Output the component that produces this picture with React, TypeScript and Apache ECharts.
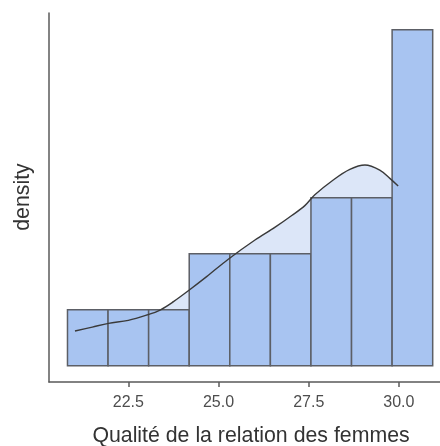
import React, { useEffect, useRef } from "react";
import * as echarts from "echarts";

// Histogram bins (edges) and the number of observations in each bin
const binEdges = [20.8125, 21.9375, 23.0625, 24.1875, 25.3125, 26.4375, 27.5625, 28.6875, 29.8125, 30.9375];
const binCounts = [1, 1, 1, 2, 2, 2, 3, 3, 6];
const sampleSize = 21;

// Kernel density estimate of the same variable
const kdeX = [21.02, 21.5, 21.95, 22.5, 23.01, 23.38, 23.75, 24.19, 24.67, 25.27, 26.01, 26.57, 27.03, 27.4, 27.67, 28.18, 28.64, 29.06, 29.47, 29.75, 29.98];
const kdeY = [0.0262, 0.0292, 0.032, 0.0343, 0.0383, 0.0421, 0.0484, 0.0572, 0.0673, 0.0805, 0.095, 0.1047, 0.1135, 0.1212, 0.1292, 0.1404, 0.1484, 0.1517, 0.1479, 0.1416, 0.1358];

const xTickValues = [22.5, 25.0, 27.5, 30.0];
const xLabel = "Qualité de la relation des femmes";
const yLabel = "density";

const FONT = "Liberation Sans, Arial, Helvetica, sans-serif";

export default function App() {
  const ref = useRef<HTMLDivElement>(null);

  useEffect(() => {
    if (!ref.current) return;
    const chart = echarts.init(ref.current, null, { renderer: "svg" });

    const binWidth = binEdges[1] - binEdges[0];
    const bars = binCounts.map((c, i) => [binEdges[i], binEdges[i + 1], c / (sampleSize * binWidth)]);
    const kde = kdeX.map((x, i) => [x, kdeY[i]]);

    chart.setOption({
      animation: false,
      grid: { left: 49, right: 0, top: 13, bottom: 64, outerBoundsMode: "none" },
      // Axis titles, placed as free text below / left of the plot
      graphic: [
        {
          type: "text",
          x: 251,
          y: 435,
          style: {
            text: xLabel,
            fontFamily: FONT,
            fontSize: 21.3,
            fill: "#333333",
            align: "center",
            verticalAlign: "middle",
          },
        },
        {
          type: "text",
          x: 22,
          y: 197,
          rotation: Math.PI / 2,
          style: {
            text: yLabel,
            fontFamily: FONT,
            fontSize: 21.3,
            fill: "#333333",
            align: "center",
            verticalAlign: "middle",
          },
        },
      ],
      xAxis: {
        type: "value",
        min: 20.3,
        max: 31.14,
        axisLine: { show: true, onZero: false, lineStyle: { color: "#5a5a5a", width: 1.5 } },
        axisTick: { show: true, length: 5, customValues: xTickValues, lineStyle: { color: "#5a5a5a", width: 1.5 } },
        axisLabel: {
          customValues: xTickValues,
          formatter: (v: number) => v.toFixed(1),
          fontFamily: FONT,
          fontSize: 16,
          color: "#4d4d4d",
          margin: 11,
        },
        splitLine: { show: false },
      },
      yAxis: {
        type: "value",
        min: -0.01232,
        max: 0.2666,
        axisLine: { show: true, onZero: false, lineStyle: { color: "#5a5a5a", width: 1.5 } },
        axisTick: { show: false },
        axisLabel: { show: false },
        splitLine: { show: false },
      },
      series: [
        {
          type: "line",
          data: kde,
          smooth: 0.35,
          symbol: "none",
          z: 1,
          lineStyle: { width: 0, opacity: 0 },
          areaStyle: { color: "#dce6f8", opacity: 1 },
        },
        {
          type: "custom",
          z: 2,
          data: bars,
          encode: { x: [0, 1], y: 2 },
          renderItem: (_params: any, api: any) => {
            const top = api.coord([api.value(0), api.value(2)]);
            const bottom = api.coord([api.value(1), 0]);
            return {
              type: "rect",
              shape: { x: top[0], y: top[1], width: bottom[0] - top[0], height: bottom[1] - top[1] },
              style: { fill: "#a8c4f1", stroke: "#5c5f66", lineWidth: 1.5 },
            };
          },
        },
        {
          type: "line",
          data: kde,
          smooth: 0.35,
          symbol: "none",
          z: 3,
          lineStyle: { color: "#3a3a3a", width: 1.4 },
        },
      ],
    });

    return () => chart.dispose();
  }, []);

  return (
    <div
      ref={ref}
      style={{ position: "fixed", left: 0, top: 0, width: 440, height: 446 }}
    />
  );
}
